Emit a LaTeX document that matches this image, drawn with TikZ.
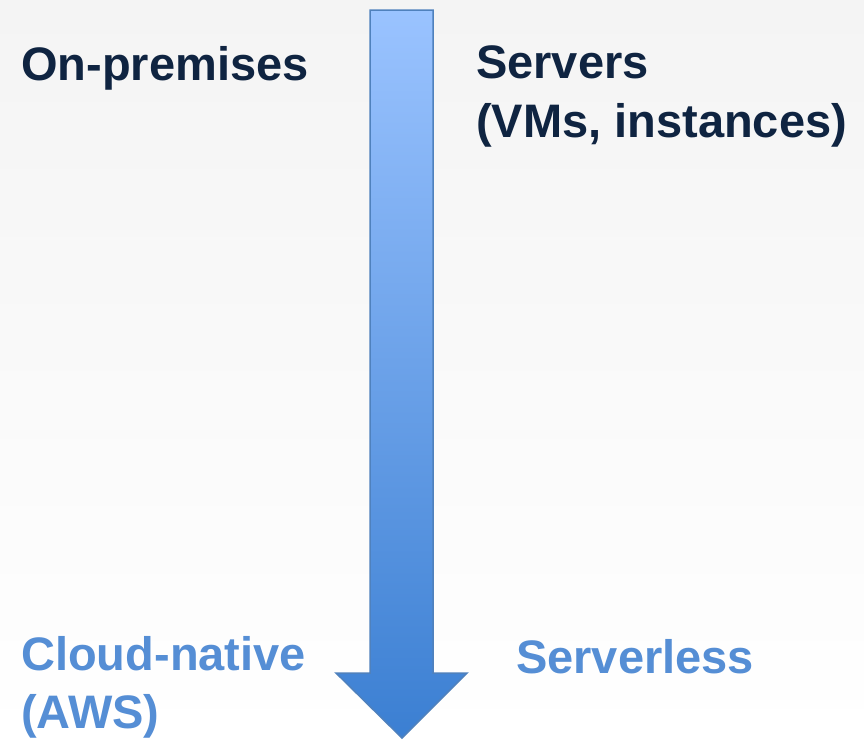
\documentclass[tikz,border=0pt]{standalone}
\usepackage{fontspec}
\setmainfont{Liberation Sans}
\definecolor{navy}{HTML}{0F2441}
\definecolor{lblue}{HTML}{558ED5}
\definecolor{arrtop}{HTML}{9AC3FF}
\definecolor{arrbot}{HTML}{3B7FD2}
\definecolor{arredge}{HTML}{4F81BD}
\definecolor{bgtop}{HTML}{F4F4F4}
\begin{document}
\begin{tikzpicture}[x=1pt,y=-1pt,
  lbl/.style={anchor=base west,inner sep=0pt,font=\fontsize{47}{58}\selectfont\bfseries},
  dark/.style={lbl,text=navy},
  light/.style={lbl,text=lblue}]
\shade[top color=bgtop,bottom color=white] (0,0) rectangle (864,742);
\useasboundingbox (0,0) rectangle (864,742);
% arrow
\shade[top color=arrtop,bottom color=arrbot,draw=arredge,line width=1.5pt,line join=miter]
  (370,10) -- (433,10) -- (433,673) -- (467,673) -- (402,738) -- (336,673) -- (370,673) -- cycle;
\node[dark] (onprem) at (21,80) {On-premises};
\node[dark] (servers) at (476,78) {Servers};
\node[dark] (vms) at (476,137) {(VMs, instances)};
\node[light] (cloud) at (21,670) {Cloud-native};
\node[light] (aws) at (21,728) {(AWS)};
\node[light] (serverless) at (516,673) {Serverless};
\end{tikzpicture}
\end{document}
